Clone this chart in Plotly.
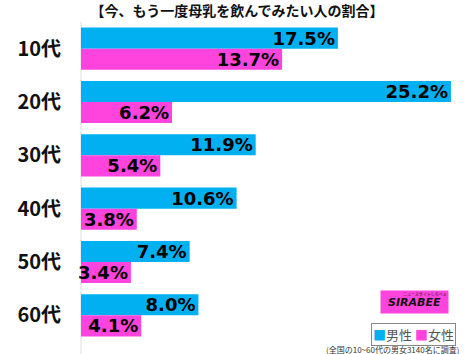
import plotly.graph_objects as go

categories = ["10代", "20代", "30代", "40代", "50代", "60代"]
male = [17.5, 25.2, 11.9, 10.6, 7.4, 8.0]
female = [13.7, 6.2, 5.4, 3.8, 3.4, 4.1]
series_names = ["男性", "女性"]
title_text = "【今、もう一度母乳を飲んでみたい人の割合】"
footnote = "(全国の10~60代の男女3140名に調査)"

BLUE = "#00B0F0"
PINK = "#FF44DD"

W, H = 474, 354
L, R, T, B = 81, 0, 22, 12
pw = W - L - R
ph = H - T - B

def px(x):
    return (x - L) / pw

def py(y):
    return (H - B - y) / ph

fig = go.Figure()
for name, vals, col in [(series_names[0], male, BLUE), (series_names[1], female, PINK)]:
    fig.add_trace(go.Bar(
        y=categories, x=vals, name=name, orientation="h",
        marker=dict(color=col, line=dict(width=0)),
        text=[f"{v:.1f}%" for v in vals],
        textposition="inside", insidetextanchor="end",
        constraintext="none",
        textfont=dict(family="DejaVu Sans", size=18, color="black", weight="bold"),
        cliponaxis=False,
        showlegend=False,
    ))

fig.update_layout(
    width=W, height=H,
    margin=dict(l=L, r=R, t=T, b=B),
    paper_bgcolor="white", plot_bgcolor="white",
    barmode="group", bargap=0.21, bargroupgap=0,
    font=dict(family="Noto Sans CJK JP"),
    title=dict(text=title_text, x=0.5, xanchor="center", y=1 - 11 / H, yanchor="middle",
               font=dict(family="Noto Sans CJK JP", size=14, color="#111", weight="bold")),
    xaxis=dict(range=[0, 26.77], visible=False),
    yaxis=dict(autorange="reversed", showgrid=False, zeroline=False, showline=False,
               ticks="", ticklabelstandoff=19,
               tickfont=dict(family="Noto Sans CJK JP", size=20, color="#111", weight="bold")),
)

# axis baseline
fig.add_shape(type="line", xref="paper", yref="paper", x0=0, x1=0, y0=py(354), y1=py(22),
              line=dict(color="#dddddd", width=1), layer="below")

# logo
fig.add_annotation(xref="paper", yref="paper", x=px(380), y=py(290), xanchor="left", yanchor="top",
                   width=67, height=22, bgcolor=PINK, borderpad=0, align="center", valign="middle",
                   text="<b><i>SIRABEE</i></b>", showarrow=False,
                   font=dict(family="DejaVu Sans", size=11, color="#111"))
fig.add_annotation(xref="paper", yref="paper", x=px(425), y=py(294), xanchor="center", yanchor="middle",
                   text="ニュースサイトしらべぇ", showarrow=False,
                   font=dict(family="Noto Sans CJK JP", size=4, color="#111"))

# legend
fig.add_annotation(xref="paper", yref="paper", x=px(456), y=py(323), xanchor="right", yanchor="top",
                   text=f"<span style='color:{BLUE}'>■</span>{series_names[0]} <span style='color:{PINK}'>■</span>{series_names[1]}",
                   showarrow=False, bordercolor="#888", borderwidth=1, borderpad=1,
                   font=dict(family="Noto Sans CJK JP", size=13, color="#555"))
fig.add_annotation(xref="paper", yref="paper", x=px(461), y=py(349), xanchor="right", yanchor="middle",
                   text=footnote, showarrow=False,
                   font=dict(family="Noto Sans CJK JP", size=8, color="#333"))

fig.write_html("out.html")
